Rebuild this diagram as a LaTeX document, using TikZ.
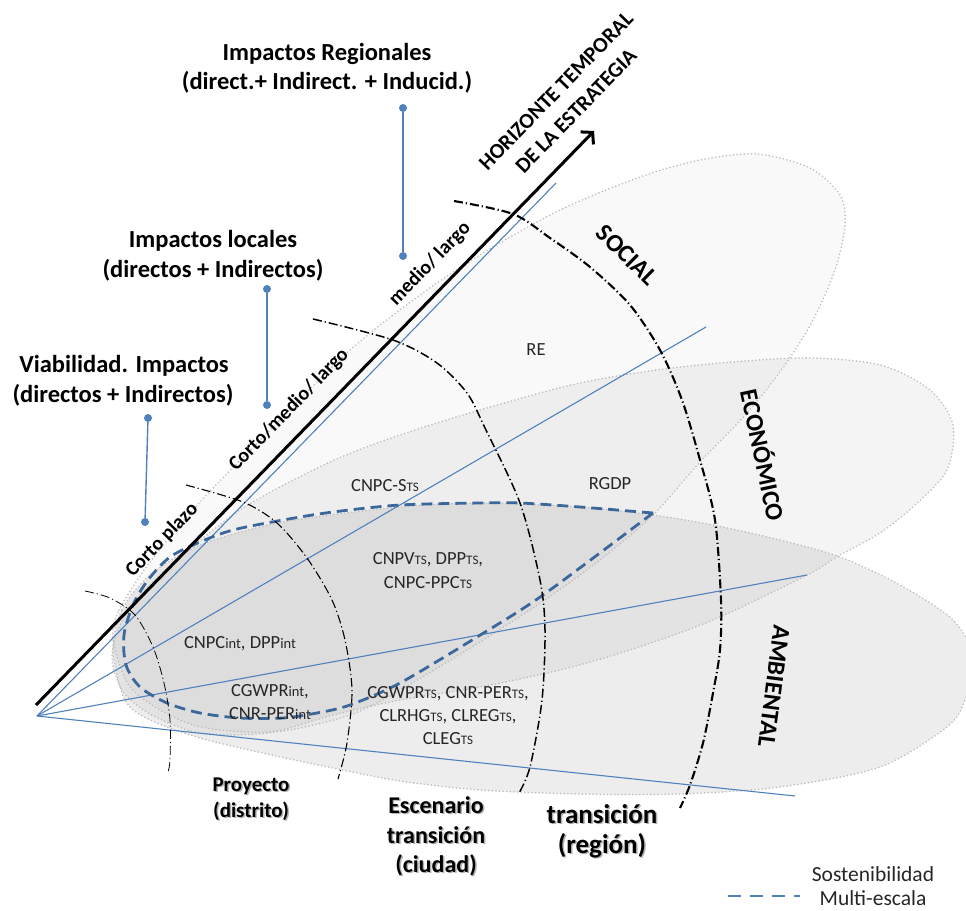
\documentclass[tikz,border=0pt]{standalone}
\usepackage{fontspec}
\setmainfont{Carlito}
\usetikzlibrary{arrows.meta}
\definecolor{fanblue}{HTML}{4F81BD}
\definecolor{susblue}{HTML}{3C679B}
\definecolor{dotgray}{HTML}{BDBDBD}
\definecolor{txtgray}{HTML}{262626}
\newcommand{\subTS}{{\fontsize{13}{13}\selectfont TS}}
\newcommand{\subint}{{\fontsize{14.5}{14}\selectfont int}}
\begin{document}
\begin{tikzpicture}[x=1pt,y=-1pt,
  blob/.style={fill=black, fill opacity=#1, draw=none},
  blobedge/.style={draw=dotgray, line width=1.8pt, dash pattern=on 0pt off 3.6pt, line cap=round},
  fanline/.style={draw=fanblue, line width=1.1pt},
  ring/.style={draw=black, line width=#1, dash pattern=on 9pt off 3pt on 1.2pt off 3pt},
  susline/.style={draw=susblue, line width=2.8pt, dash pattern=on 11pt off 6pt},
  pin/.style={draw=fanblue, line width=1.4pt},
  pindot/.style={circle, fill=fanblue, inner sep=0pt, minimum size=8pt},
  title/.style={font=\fontsize{24.5}{29}\selectfont\bfseries, anchor=base, inner sep=0pt},
  lab/.style={font=\fontsize{18.5}{22}\selectfont, text=txtgray, anchor=base, inner sep=0pt},
  axislab/.style={font=\fontsize{20}{24}\selectfont\bfseries, inner sep=0pt, rotate=45.8},
  dimlab/.style={font=\fontsize{25}{30}\selectfont\bfseries, inner sep=0pt},
  scalelab/.style={font=\fontsize{#1}{#1}\selectfont\bfseries, anchor=base, inner sep=0pt},
  scaleshadow/.style={font=\fontsize{#1}{#1}\selectfont\bfseries, anchor=base, inner sep=0pt, text=black, text opacity=0.3},
  leglab/.style={font=\fontsize{21.5}{24}\selectfont, text=txtgray, anchor=base, inner sep=0pt}
]
\useasboundingbox (0,0) rectangle (966,910);
\begin{scope}
\clip (0,0) rectangle (966,910);
% ---- three dimension shapes: fills
\fill[blob=0.025] plot[smooth cycle] coordinates {(113,640) (119,610) (150,562) (200,502) (270,430) (350,350) (420,295) (483,253) (560,210) (640,177) (700,160) (757,154) (810,168) (840,195) (845,225) (835,270) (813,320) (785,365) (747,413) (700,462) (653,515) (600,560) (545,600) (480,642) (400,690) (350,715) (283,731) (230,731) (190,724) (155,707) (128,684)};
\fill[blob=0.045] plot[smooth cycle] coordinates {(112,655) (125,615) (160,575) (240,510) (330,462) (400,435) (480,410) (580,383) (680,367) (800,358) (880,365) (930,390) (953,425) (947,470) (915,505) (880,533) (840,555) (807,575) (713,620) (630,650) (560,670) (480,687) (400,700) (333,715) (267,733) (200,733) (150,714) (122,690)};
\fill[blob=0.07] plot[smooth cycle] coordinates {(113,650) (122,610) (150,575) (200,545) (283,522) (400,507) (480,503) (580,507) (653,515) (713,525) (780,540) (840,557) (900,585) (953,620) (975,660) (965,700) (947,727) (880,767) (780,787) (680,794) (580,794) (480,790) (400,781) (333,768) (267,754) (200,738) (150,720) (125,700)};
% ---- dotted borders
\draw[blobedge] plot[smooth cycle] coordinates {(113,640) (119,610) (150,562) (200,502) (270,430) (350,350) (420,295) (483,253) (560,210) (640,177) (700,160) (757,154) (810,168) (840,195) (845,225) (835,270) (813,320) (785,365) (747,413) (700,462) (653,515) (600,560) (545,600) (480,642) (400,690) (350,715) (283,731) (230,731) (190,724) (155,707) (128,684)};
\draw[blobedge] plot[smooth cycle] coordinates {(112,655) (125,615) (160,575) (240,510) (330,462) (400,435) (480,410) (580,383) (680,367) (800,358) (880,365) (930,390) (953,425) (947,470) (915,505) (880,533) (840,555) (807,575) (713,620) (630,650) (560,670) (480,687) (400,700) (333,715) (267,733) (200,733) (150,714) (122,690)};
\draw[blobedge] plot[smooth cycle] coordinates {(113,650) (122,610) (150,575) (200,545) (283,522) (400,507) (480,503) (580,507) (653,515) (713,525) (780,540) (840,557) (900,585) (953,620) (975,660) (965,700) (947,727) (880,767) (780,787) (680,794) (580,794) (480,790) (400,781) (333,768) (267,754) (200,738) (150,720) (125,700)};
\end{scope}

% ---- fan of blue lines
\coordinate (O) at (37,716);
\coordinate (f1) at (556,183);
\coordinate (f2) at (706,327);
\coordinate (f3) at (807,575);
\coordinate (f4) at (795,796);
\draw[fanline] (O) -- (f1);
\draw[fanline] (O) -- (f2);
\draw[fanline] (O) -- (f3);
\draw[fanline] (O) -- (f4);

% ---- multi-scale sustainability outline
\draw[susline] plot[smooth] coordinates {(653,513) (580,507) (520,503) (480,503) (400,505) (333,512) (283,520) (233,530) (200,542) (170,557) (148,580) (133,605) (124,635) (126,665) (140,687) (167,703) (200,713) (240,718) (283,718) (317,713) (350,705) (400,683) (477,637) (543,595) (653,513)};

% ---- scale arcs
\draw[ring=0.8pt] plot[smooth] coordinates {(85,591) (110,598) (135,615) (153,647) (164,683) (170,720) (170,760) (168,772)};
\draw[ring=1.1pt] plot[smooth] coordinates {(186,485) (243,502) (277,523) (307,558) (332,600) (345,640) (352,690) (347,743) (338,779)};
\draw[ring=1.5pt] plot[smooth] coordinates {(313,319) (393,340) (437,363) (467,393) (485,428) (520,503) (540,580) (545,630) (542,700) (530,767) (519,793)};
\draw[ring=2.1pt] plot[smooth] coordinates {(454,201) (513,214) (550,238) (590,267) (630,305) (660,350) (682,400) (700,460) (715,520) (721,600) (720,650) (713,693) (703,743) (690,785) (680,808)};

% ---- time axis
\coordinate (axS) at (36,705);
\coordinate (axE) at (594,131);
\draw[line width=3pt, -{Straight Barb[length=8pt,width=18pt,line width=3pt]}] (axS) -- (axE);

% ---- impact pins
\node[pindot] (p1a) at (403,108) {};
\node[pindot] (p1b) at (403,256) {};
\draw[pin] (p1a) -- (p1b);
\node[pindot] (p2a) at (267,289) {};
\node[pindot] (p2b) at (267,405) {};
\draw[pin] (p2a) -- (p2b);
\node[pindot] (p3a) at (148,418) {};
\node[pindot] (p3b) at (145,522) {};
\draw[pin] (p3a) -- (p3b);

% ---- titles
\node[title] (t1a) at (327,60) {Impactos Regionales};
\node[title] (t1b) at (327,89) {(direct.+ Indirect. + Inducid.)};
\node[title] (t2a) at (213,247) {Impactos locales};
\node[title] (t2b) at (213,277) {(directos + Indirectos)};
\node[title] (t3a) at (124,372) {Viabilidad. Impactos};
\node[title] (t3b) at (123,402) {(directos + Indirectos)};

% ---- axis labels
\node[axislab] (a1) at (162,540) {Corto plazo};
\node[axislab] (a2) at (289,410) {Corto/medio/ largo};
\node[axislab] (a3) at (430,264) {medio/ largo};
\node[axislab, font=\fontsize{21.5}{26}\selectfont\bfseries] (h1) at (556,91) {HORIZONTE TEMPORAL};
\node[axislab, font=\fontsize{21.5}{26}\selectfont\bfseries] (h2) at (576,111) {DE LA ESTRATEGIA};

% ---- dimension labels
\node[dimlab, rotate=-44.5] (dS) at (627,255) {SOCIAL};
\node[dimlab, rotate=-78] (dE) at (764,455) {ECONÓMICO};
\node[dimlab, rotate=-97.5] (dA) at (774,686) {AMBIENTAL};

% ---- indicator labels
\node[lab] (l1) at (536,355) {RE};
\node[lab] (l2) at (385,491) {CNPC-S\subTS};
\node[lab] (l3) at (610,489) {RGDP};
\node[lab] (l4) at (428,564) {CNPV\subTS, DPP\subTS,};
\node[lab] (l5) at (428,588) {CNPC-PPC\subTS};
\node[lab] (l6) at (240,648) {CNPC\subint, DPP\subint};
\node[lab] (l7) at (270,696) {CGWPR\subint,};
\node[lab] (l8) at (270,719) {CNR-PER\subint};
\node[lab] (l9) at (448,698) {CGWPR\subTS, CNR-PER\subTS,};
\node[lab] (l10) at (448,721) {CLRHG\subTS, CLREG\subTS,};
\node[lab] (l11) at (448,744) {CLEG\subTS};

% ---- scale labels (with soft shadow)
\node[scaleshadow=21] at (252.5,792.5) {Proyecto};
\node[scaleshadow=21] at (252.5,818.5) {(distrito)};
\node[scalelab=21] (s1a) at (251,791) {Proyecto};
\node[scalelab=21] (s1b) at (251,817) {(distrito)};
\node[scaleshadow=24] at (437.5,814.5) {Escenario};
\node[scaleshadow=24] at (437.5,844.5) {transición};
\node[scaleshadow=24] at (437.5,873.5) {(ciudad)};
\node[scalelab=24] (s2a) at (436,813) {Escenario};
\node[scalelab=24] (s2b) at (436,843) {transición};
\node[scalelab=24] (s2c) at (436,872) {(ciudad)};
\node[scaleshadow=27] at (603.5,824.5) {transición};
\node[scaleshadow=27] at (603.5,854.5) {(región)};
\node[scalelab=27] (s3a) at (602,823) {transición};
\node[scalelab=27] (s3b) at (602,853) {(región)};

% ---- legend
\coordinate (lg1) at (728,896);
\coordinate (lg2) at (800,896);
\draw[susline, draw=fanblue, dash pattern=on 13pt off 9pt] (lg1) -- (lg2);
\node[leglab] (lgA) at (873,881) {Sostenibilidad};
\node[leglab] (lgB) at (873,905) {Multi-escala};
\end{tikzpicture}
\end{document}
